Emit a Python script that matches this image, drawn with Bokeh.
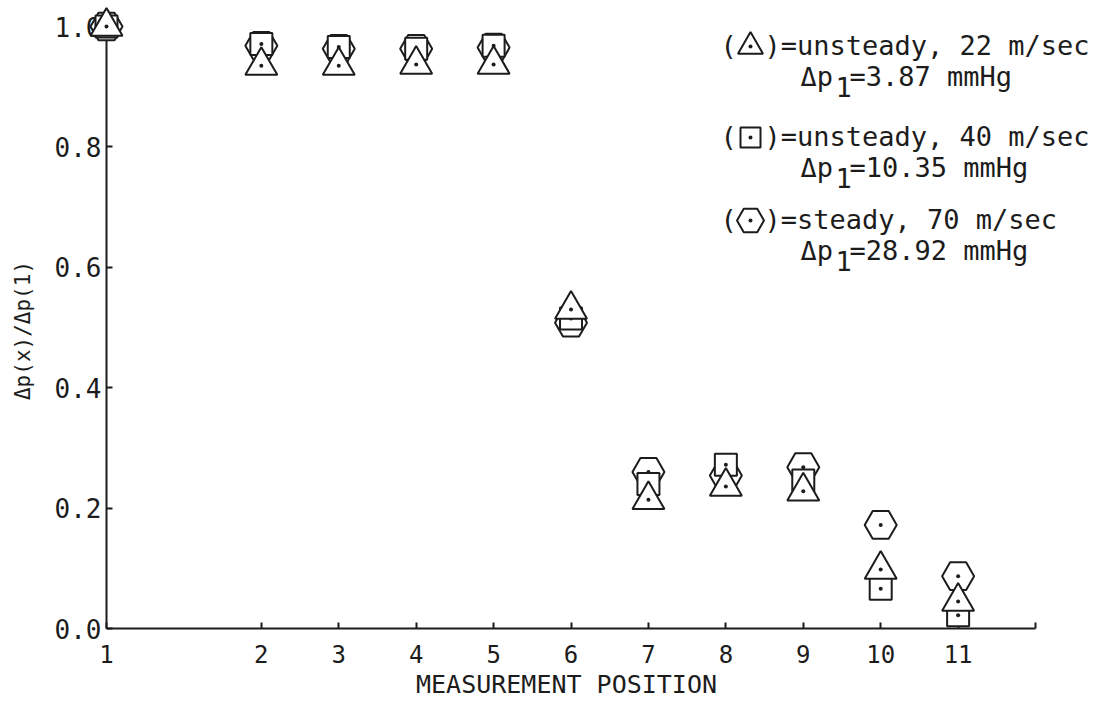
import numpy as np
from bokeh.plotting import figure
from bokeh.models import ColumnDataSource, LinearAxis, FixedTicker, Range1d, Label
from bokeh.embed import file_html
from bokeh.resources import INLINE

# ---------------- data ----------------
positions = ["1", "2", "3", "4", "5", "6", "7", "8", "9", "10", "11"]
station = [0, 2, 3, 4, 5, 6, 7, 8, 9, 10, 11]          # axial station of each tap
unsteady_22 = [1.0, 0.935, 0.935, 0.937, 0.937, 0.530, 0.214, 0.236, 0.228, 0.098, 0.045]
unsteady_40 = [1.0, 0.971, 0.966, 0.963, 0.968, 0.515, 0.240, 0.272, 0.246, 0.066, 0.022]
steady_70 = [1.0, 0.968, 0.963, 0.963, 0.965, 0.508, 0.260, 0.254, 0.268, 0.172, 0.087]
y_ticks = [0.0, 0.2, 0.4, 0.6, 0.8, 1.0]
y_tick_labels = ["0.0", "0.2", "0.4", "0.6", "0.8", "1.0"]
series_names = ["unsteady, 22 m/sec", "unsteady, 40 m/sec", "steady, 70 m/sec"]
dp1_values = ["3.87", "10.35", "28.92"]
x_title = "MEASUREMENT POSITION"
y_title = "\u0394p(x)/\u0394p(1)"

# ---------------- layout ----------------
INK = "#1c1c1c"
FONT = "DejaVu Sans Mono"
W, H = 1104, 703
PXU, PYU = 77.42, 602.0
X0PIX, Y1PIX = 106, 26
x0 = -X0PIX / PXU
x1 = x0 + W / PXU
y1 = 1 + Y1PIX / PYU
y0 = y1 - H / PYU

p = figure(width=W, height=H, x_range=Range1d(x0, x1), y_range=Range1d(y0, y1),
           x_axis_type=None, y_axis_type=None, output_backend="svg",
           toolbar_location=None, min_border_left=0, min_border_right=0,
           min_border_top=0, min_border_bottom=0)
p.outline_line_color = None
p.background_fill_color = "white"
p.border_fill_color = "white"

x_over = {s: lab for s, lab in zip(station, positions)}
x_over[12] = ""
xaxis = LinearAxis(fixed_location=0, bounds=(0, 12),
                   ticker=FixedTicker(ticks=station + [12]),
                   major_label_overrides=x_over, level="underlay")
yaxis = LinearAxis(fixed_location=0, bounds=(0, 1.0),
                   ticker=FixedTicker(ticks=y_ticks),
                   major_label_overrides={t: l for t, l in zip(y_ticks, y_tick_labels)},
                   level="underlay")
for ax in (xaxis, yaxis):
    ax.axis_line_width = 2
    ax.axis_line_color = INK
    ax.major_tick_in = 6
    ax.major_tick_out = 0
    ax.major_tick_line_width = 2
    ax.major_tick_line_color = INK
    ax.minor_tick_line_color = None
    ax.major_label_text_font = FONT
    ax.major_label_text_color = INK
xaxis.major_label_standoff = 16
xaxis.major_label_text_font_size = "24px"
yaxis.major_label_standoff = 5
yaxis.major_label_text_font_size = "26px"
p.add_layout(xaxis, "below")
p.add_layout(yaxis, "left")

src = ColumnDataSource(dict(x=station, t=unsteady_22, s=unsteady_40, h=steady_70))
style = dict(fill_color="white", line_color=INK, line_width=2)
dot = dict(marker="circle", size=4, fill_color=INK, line_color=None)
p.scatter("x", "h", source=src, marker="hex", size=32, **style)
p.scatter("x", "h", source=src, **dot)
p.scatter("x", "s", source=src, marker="square", size=22, **style)
p.scatter("x", "s", source=src, **dot)
p.scatter("x", "t", source=src, marker="triangle", size=32, **style)
p.scatter("x", "t", source=src, **dot)

# ---------------- legend (page pixel space) ----------------
p.extra_x_ranges = {"px": Range1d(0, W)}
p.extra_y_ranges = {"px": Range1d(H, 0)}


def lab(text, X, Y, size="27px", align="left", angle=0.0):
    p.add_layout(Label(x=X, y=H - Y, x_units="screen", y_units="screen",
                       text=text, text_font=FONT, text_font_size=size,
                       text_color=INK, text_align=align, text_baseline="middle",
                       angle=angle))


rows = [45, 136, 219]
markers = [("triangle", 25), ("square", 20), ("hex", 27)]
for (mk, sz), name, dp, Y in zip(markers, series_names, dp1_values, rows):
    lab("(", 720, Y)
    lab(")=" + name, 764, Y)
    p.scatter(x=[750], y=[Y + 1], x_range_name="px", y_range_name="px",
              marker=mk, size=sz, **style)
    p.scatter(x=[750], y=[Y + 1], x_range_name="px", y_range_name="px", **dot)
    lab("\u0394p", 800, Y + 31)
    lab("1", 835, Y + 41)
    lab("=" + dp + " mmHg", 849, Y + 31)

lab(x_title, 566, 684, size="25px", align="center")
lab(y_title, 22, 330, size="21px", align="center", angle=np.pi / 2)

open("out.html", "w").write(file_html(p, INLINE))
